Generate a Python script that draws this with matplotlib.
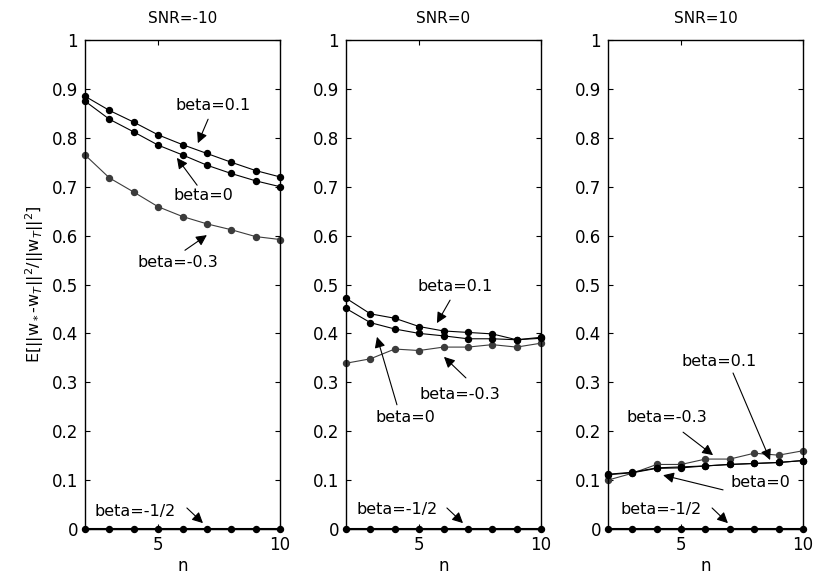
import matplotlib
matplotlib.use("Agg")
import matplotlib.pyplot as plt

plt.rcParams['font.family'] = ['DejaVu Sans']

n = [2, 3, 4, 5, 6, 7, 8, 9, 10]
snr_titles = ['SNR=-10', 'SNR=0', 'SNR=10']

# Normalised error curves, one list per SNR setting
snr_m10_b01 = [0.885, 0.856, 0.832, 0.806, 0.786, 0.768, 0.750, 0.733, 0.720]
snr_m10_b0 = [0.875, 0.838, 0.812, 0.785, 0.765, 0.744, 0.727, 0.712, 0.700]
snr_m10_bm03 = [0.765, 0.718, 0.689, 0.659, 0.639, 0.624, 0.612, 0.598, 0.592]

snr_0_b01 = [0.472, 0.440, 0.431, 0.414, 0.405, 0.402, 0.399, 0.387, 0.392]
snr_0_b0 = [0.451, 0.422, 0.409, 0.400, 0.395, 0.389, 0.389, 0.387, 0.390]
snr_0_bm03 = [0.339, 0.348, 0.368, 0.365, 0.372, 0.372, 0.377, 0.372, 0.380]

snr_10_b01 = [0.112, 0.116, 0.125, 0.127, 0.129, 0.132, 0.134, 0.136, 0.140]
snr_10_b0 = [0.111, 0.115, 0.124, 0.125, 0.129, 0.132, 0.134, 0.136, 0.140]
snr_10_bm03 = [0.100, 0.114, 0.132, 0.132, 0.143, 0.143, 0.155, 0.151, 0.160]

beta_m05 = [0, 0, 0, 0, 0, 0, 0, 0, 0]

yticks = [0, 0.1, 0.2, 0.3, 0.4, 0.5, 0.6, 0.7, 0.8, 0.9, 1]
ytick_labels = ['0', '0.1', '0.2', '0.3', '0.4', '0.5', '0.6', '0.7', '0.8', '0.9', '1']
xticks = [5, 10]
xtick_labels = ['5', '10']

panels = [
    (snr_m10_b01, snr_m10_b0, snr_m10_bm03),
    (snr_0_b01, snr_0_b0, snr_0_bm03),
    (snr_10_b01, snr_10_b0, snr_10_bm03),
]

# Label text position, arrow tail, arrow tip (data coordinates) for each panel
notes = [
    [
        ('beta=0.1', (7.25, 0.867), (7.05, 0.838), (6.63, 0.789)),
        ('beta=0', (6.84, 0.683), (6.60, 0.703), (5.77, 0.759)),
        ('beta=-0.3', (5.82, 0.544), (6.10, 0.570), (7.00, 0.601)),
        ('beta=-1/2', (4.05, 0.035), (6.18, 0.043), (6.84, 0.012)),
    ],
    [
        ('beta=0.1', (6.47, 0.495), (6.27, 0.468), (5.73, 0.421)),
        ('beta=0', (4.42, 0.229), (4.09, 0.254), (3.27, 0.393)),
        ('beta=-0.3', (6.68, 0.276), (6.92, 0.309), (6.02, 0.352)),
        ('beta=-1/2', (4.09, 0.039), (6.14, 0.043), (6.80, 0.012)),
    ],
    [
        ('beta=0.1', (6.55, 0.342), (7.13, 0.319), (8.65, 0.141)),
        ('beta=-0.3', (4.42, 0.227), (5.08, 0.198), (6.31, 0.151)),
        ('beta=0', (8.24, 0.096), (6.72, 0.080), (4.26, 0.110)),
        ('beta=-1/2', (4.17, 0.039), (6.27, 0.043), (6.92, 0.012)),
    ],
]

fig = plt.figure(figsize=(8.14, 5.78), dpi=100)
lefts = [85 / 814, 346 / 814, 608 / 814]
width = 195 / 814
bottom = (578 - 529) / 578
height = 489 / 578

dark = '#3c3c3c'
for i, (b01, b0, bm03) in enumerate(panels):
    ax = fig.add_axes([lefts[i], bottom, width, height])
    ax.plot(n, b01, '-o', color='black', lw=0.8, ms=4.3, zorder=3, clip_on=False)
    ax.plot(n, b0, '-o', color='black', lw=0.8, ms=4.3, zorder=3, clip_on=False)
    ax.plot(n, bm03, '-o', color=dark, lw=0.8, ms=4.3, zorder=2, clip_on=False)
    ax.plot(n, beta_m05, '-o', color='black', lw=1.5, ms=4.3, zorder=3, clip_on=False)

    ax.set_xlim(2, 10)
    ax.set_ylim(0, 1)
    ax.set_xticks(xticks)
    ax.set_xticklabels(xtick_labels)
    ax.set_yticks(yticks)
    ax.set_yticklabels(ytick_labels)
    ax.tick_params(direction='in', length=3.5, width=0.8, top=True, right=True,
                   labelsize=12, pad=5)
    for sp in ax.spines.values():
        sp.set_linewidth(1.0)
    ax.set_title(snr_titles[i], fontsize=11, pad=12)
    ax.set_xlabel('n', fontsize=12, labelpad=2)

    for label, txt_pos, tail, tip in notes[i]:
        ax.text(txt_pos[0], txt_pos[1], label, fontsize=11.5, ha='center', va='center')
        ax.annotate('', xy=tip, xytext=tail,
                    arrowprops=dict(arrowstyle='-|>', color='black', lw=0.8,
                                    mutation_scale=16, shrinkA=0, shrinkB=0))

    if i == 0:
        ax.set_ylabel(r'E[||w$_*$-w$_T$||$^2$/||w$_T$||$^2$]', fontsize=11.5, labelpad=4)

fig.savefig('out.png', dpi=100)
